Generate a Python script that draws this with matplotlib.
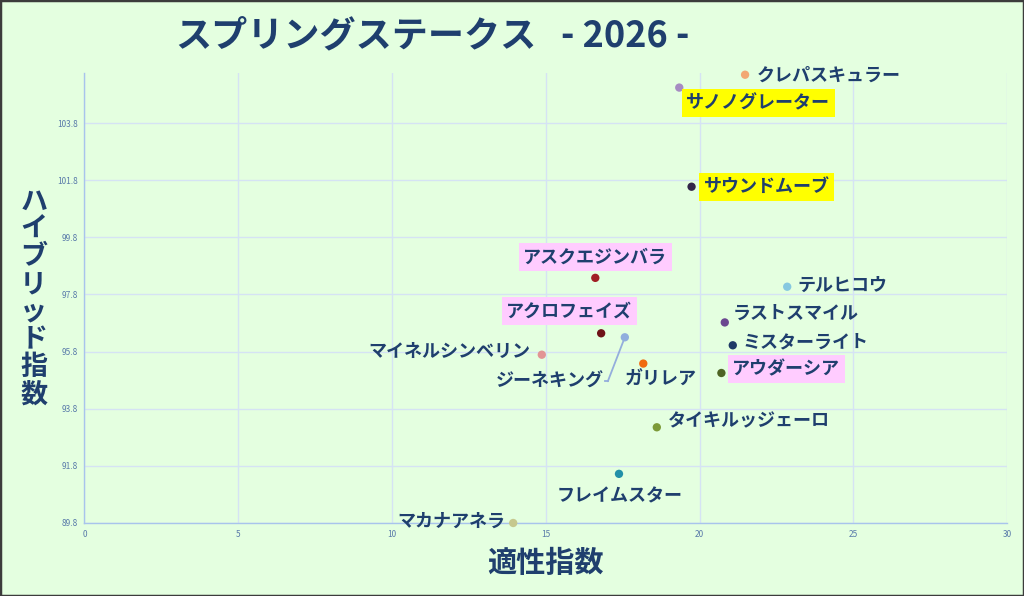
import matplotlib
matplotlib.use('Agg')
import matplotlib.pyplot as plt
import matplotlib.patches as mpatches
from matplotlib.lines import Line2D

# ── DATA ──────────────────────────────────────────────────
horses = ['クレパスキュラー', 'サノノグレーター', 'サウンドムーブ', 'アスクエジンバラ',
          'テルヒコウ', 'ラストスマイル', 'アクロフェイズ', 'ジーネキング',
          'ミスターライト', 'マイネルシンベリン', 'ガリレア', 'アウダーシア',
          'タイキルッジェーロ', 'フレイムスター', 'マカナアネラ']
tekisei = [21.48, 19.34, 19.74, 16.61, 22.85, 20.82, 16.80, 17.57,
           21.08, 14.87, 18.17, 20.71, 18.61, 17.38, 13.94]
hybrid  = [105.49, 105.04, 101.57, 98.38, 98.07, 96.82, 96.44, 96.30,
           96.02, 95.69, 95.38, 95.05, 93.15, 91.52, 89.80]
marker_colors = ['#F2A873', '#A68CC2', '#33264A', '#A01E24', '#86C8E0', '#6B4790',
                 '#6E1218', '#90AEDD', '#1F3A66', '#E29494', '#F06A10', '#4E6424',
                 '#7C9A38', '#2290A8', '#C6C88E']
# highlight: '' none, 'y' yellow box, 'p' pink box
highlight = ['', 'y', 'y', 'p', '', '', 'p', '', '', '', '', 'p', '', '', '']

x_ticks = [0, 5, 10, 15, 20, 25, 30]
y_ticks = [89.8, 91.8, 93.8, 95.8, 97.8, 99.8, 101.8, 103.8]

# ── LABEL LAYOUT (pixel offsets, alignment) ───────────────
label_pos = {
    'クレパスキュラー':   (12, 0, 'left'),
    'サノノグレーター':   (7, -15, 'left'),
    'サウンドムーブ':     (12, 0, 'left'),
    'アスクエジンバラ':   (0, 21, 'center'),
    'テルヒコウ':         (10, 1, 'left'),
    'ラストスマイル':     (8, 9, 'left'),
    'アクロフェイズ':     (-32, 22, 'center'),
    'ジーネキング':       (-21, -44, 'right'),
    'ミスターライト':     (10, 3, 'left'),
    'マイネルシンベリン': (-11, 3, 'right'),
    'ガリレア':           (18, -16, 'center'),
    'アウダーシア':       (11, 4, 'left'),
    'タイキルッジェーロ': (11, 6, 'left'),
    'フレイムスター':     (1, -22, 'center'),
    'マカナアネラ':       (-8, 2, 'right'),
}

# ── STYLE ─────────────────────────────────────────────────
plt.rcParams['font.family'] = ['Noto Sans CJK JP', 'DejaVu Sans']
BG = '#E4FFE0'
NAVY = '#1F3F6E'
TICK = '#5A7BAA'
GRID = '#D5E3F4'
SPINE = '#A8C4EC'
LEADER = '#94AEDC'

fig = plt.figure(figsize=(10.24, 5.96), dpi=100, facecolor=BG)
ax = fig.add_axes([0.0825, 0.1225, 0.901, 0.755], facecolor=BG)

ax.set_xlim(0, 30)
ax.set_ylim(89.8, 105.55)
ax.set_xticks(x_ticks)
ax.set_yticks(y_ticks)
ax.set_xticklabels([str(t) for t in x_ticks])
ax.set_yticklabels([f'{t:.1f}' for t in y_ticks])
ax.tick_params(axis='both', length=0, labelsize=6, labelcolor=TICK, pad=5)
ax.grid(True, color=GRID, linewidth=1.0)
ax.set_axisbelow(True)
for side in ['top', 'right']:
    ax.spines[side].set_visible(False)
for side in ['left', 'bottom']:
    ax.spines[side].set_color(SPINE)
    ax.spines[side].set_linewidth(1.0)

ax.scatter(tekisei, hybrid, s=36, c=marker_colors, zorder=3, edgecolors='none', clip_on=False)

box_colors = {'y': '#FFFF00', 'p': '#FFCCFF'}
for name, xv, yv, hl in zip(horses, tekisei, hybrid, highlight):
    dx, dy, ha = label_pos[name]
    bbox = None
    if hl:
        bbox = dict(boxstyle='square,pad=0.25', facecolor=box_colors[hl], edgecolor='none')
    ax.annotate(name, (xv, yv), xytext=(dx, dy), textcoords='offset pixels',
                ha=ha, va='center', fontsize=13, fontweight='bold', color=NAVY,
                bbox=bbox, zorder=4, annotation_clip=False)

# leader line for ジーネキング
i = horses.index('ジーネキング')
ax.annotate('', (tekisei[i], hybrid[i]), xytext=(-17, -44), textcoords='offset pixels',
            arrowprops=dict(arrowstyle='-', color=LEADER, lw=1.3,
                            shrinkA=0, shrinkB=3), zorder=2)
px, py = ax.transData.transform((tekisei[i], hybrid[i]))
fig.add_artist(Line2D([(px - 17) / 1024, (px - 20) / 1024],
                      [(py - 44) / 596, (py - 44) / 596],
                      color=LEADER, lw=1.3))

# ── TITLES ────────────────────────────────────────────────
fig.text(0.171, 0.94, 'スプリングステークス', fontsize=26, fontweight='bold',
         color=NAVY, ha='left', va='center')
fig.text(0.548, 0.94, '- 2026 -', fontsize=26, fontweight='bold',
         color=NAVY, ha='left', va='center')

fig.text(0.033, 0.50, '\n'.join('ハイブリッド指数'), fontsize=19.5, fontweight='bold',
         color=NAVY, ha='center', va='center', linespacing=0.98)
fig.text(0.533, 0.055, '適性指数', fontsize=21, fontweight='bold', color=NAVY,
         ha='center', va='center')

# border
fig.add_artist(mpatches.Rectangle((0, 0), 1, 1, transform=fig.transFigure,
                                  fill=False, edgecolor='#3C3C3C', linewidth=2.5))

fig.savefig('out.png', dpi=100, facecolor=BG)
